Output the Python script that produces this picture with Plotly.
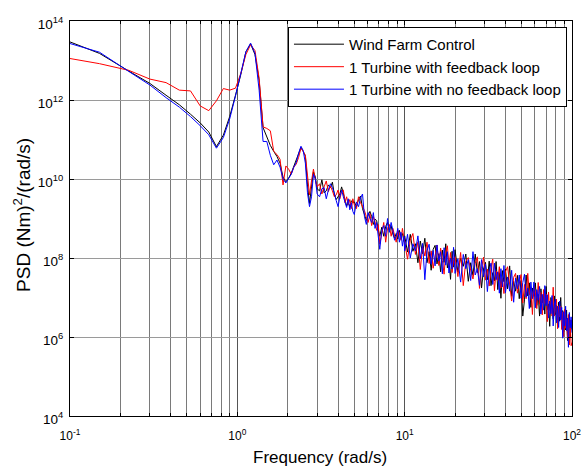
import plotly.graph_objects as go

# ---------------- data (log10 of PSD values) ----------------
freq_low = [0.1, 0.15, 0.225, 0.3, 0.375, 0.45, 0.525, 0.6, 0.675, 0.75, 0.825, 0.9, 0.975,
            1.05, 1.125, 1.2, 1.275, 1.35, 1.425, 1.5, 1.575, 1.65, 1.725, 1.8, 1.875, 1.95]
freq_mid = [2.025, 2.1, 2.175, 2.25, 2.325, 2.4, 2.475, 2.55, 2.625, 2.7, 2.775, 2.85, 2.925, 3.0,
            3.1, 3.2, 3.3, 3.4, 3.5, 3.6, 3.7, 3.8, 3.9, 4.0, 4.1, 4.2, 4.3, 4.4, 4.5, 4.6, 4.7, 4.8, 4.9, 5.0,
            5.15, 5.3, 5.45, 5.6, 5.75, 5.9, 6.05, 6.2, 6.35, 6.5, 6.65, 6.8, 6.95, 7.1,
            7.3, 7.5, 7.7, 7.9, 8.1, 8.3, 8.5, 8.7, 8.9, 9.1, 9.3, 9.5, 9.7, 9.9]
freq_high = [10.0, 10.4, 10.8, 11.2, 11.6, 12.0, 12.4, 12.8, 13.2, 13.6, 14.0, 14.4, 14.8, 15.2, 15.6,
             16.0, 16.4, 16.8, 17.2, 17.6, 18.0, 18.4, 18.8, 19.2, 19.6,
             20.0, 20.8, 21.6, 22.4, 23.2, 24.0, 24.8, 25.6, 26.4, 27.2, 28.0, 28.8, 29.6, 30.4, 31.2,
             32.0, 32.8, 33.6, 34.4, 35.2, 36.0, 36.8, 37.6, 38.4, 39.2,
             40.0, 41.2, 42.4, 43.6, 44.8, 46.0, 47.2, 48.4, 49.6, 50.8, 52.0, 53.2, 54.4, 55.6, 56.8,
             58.0, 59.2, 60.4, 61.6, 62.8, 64.0, 65.2, 66.4, 67.6, 68.8, 70.0, 71.2, 72.4, 73.6, 74.8,
             76.0, 77.2, 78.4, 79.6, 80.8, 82.0, 83.2, 84.4, 85.6, 86.8, 88.0, 89.2, 90.4, 91.6, 92.8,
             94.0, 95.2, 96.4, 97.6, 98.8, 100.0]

black_low = [13.47, 13.18, 12.73, 12.42, 12.12, 11.88, 11.64, 11.42, 11.19, 10.82, 11.11, 11.58, 12.12,
             12.65, 13.22, 13.42, 13.15, 12.50, 11.30, 11.07, 10.85, 10.70, 10.57, 10.40, 10.05, 9.93]
black_mid = [10.02, 10.15, 10.32, 10.45, 10.62, 10.80, 10.70, 10.58, 9.85, 9.38, 9.80, 10.18, 10.05, 9.75,
             9.70, 9.98, 9.65, 9.70, 9.85, 9.78, 9.92, 9.60, 9.48, 9.55, 9.62, 9.80, 9.62, 9.45, 9.32, 9.40,
             9.30, 9.45, 9.40, 9.42,
             9.30, 9.48, 9.57, 9.25, 9.10, 8.95, 9.08, 9.18, 9.05, 8.85, 8.98, 8.95, 8.72, 8.55,
             8.78, 8.55, 8.80, 8.90, 8.70, 8.82, 8.60, 8.50, 8.62, 8.48, 8.70, 8.55, 8.62, 8.42]
black_high = [8.56, 8.15, 8.60, 8.17, 8.36, 7.88, 8.43, 8.11, 8.50, 7.88,
              8.16, 7.69, 8.22, 8.32, 7.85, 8.11, 7.65, 8.20, 7.89, 8.36,
              7.75, 7.95, 7.46, 8.17, 7.77, 8.21, 7.64, 7.99, 7.79, 8.10,
              7.41, 7.88, 7.56, 8.10, 7.63, 7.91, 7.24, 7.72, 7.89, 7.45,
              7.92, 7.30, 7.63, 7.42, 7.91, 7.20, 7.63, 6.98, 7.68, 7.40,
              7.72, 7.22, 7.80, 7.03, 7.41, 7.16, 7.56, 6.97, 7.43, 6.53,
              6.94, 7.57, 7.04, 7.37, 6.75, 7.24, 7.03, 7.37, 6.80, 7.08,
              6.53, 7.22, 6.86, 7.08, 6.58, 7.28, 6.69, 6.84, 6.27, 7.00,
              6.83, 6.46, 7.04, 6.57, 6.81, 6.26, 6.88, 6.40, 7.00, 6.45,
              6.67, 6.13, 6.55, 6.18, 6.68, 5.91, 6.42, 6.55, 6.00, 6.43,
              6.19]

red_low = [13.05, 12.92, 12.75, 12.53, 12.44, 12.25, 12.23, 11.85, 11.73, 11.98, 12.29, 12.25, 12.30,
           12.68, 13.15, 13.40, 13.25, 12.55, 11.32, 11.28, 11.22, 10.70, 10.62, 10.50, 9.85, 10.33]
red_mid = [10.25, 10.12, 10.30, 10.38, 10.55, 10.78, 10.70, 10.60, 10.10, 9.60, 9.95, 10.25, 9.98, 9.80,
           9.88, 9.62, 9.80, 9.95, 9.68, 9.82, 9.70, 9.55, 9.60, 9.72, 9.50, 9.68, 9.72, 9.40, 9.55, 9.35,
           9.48, 9.25, 9.50, 9.35,
           9.25, 9.55, 9.40, 9.30, 9.20, 9.05, 8.90, 9.12, 8.82, 9.05, 8.92, 8.70, 8.85, 8.35,
           8.60, 8.90, 8.40, 8.75, 8.85, 8.55, 8.75, 8.60, 8.40, 8.70, 8.62, 8.45, 8.75, 8.50]
red_high = [8.41, 7.97, 8.45, 8.62, 8.09, 8.41, 7.71, 8.29, 8.05, 8.40,
            7.86, 8.18, 7.74, 8.10, 8.33, 7.81, 8.25, 7.94, 7.59, 8.12,
            8.31, 7.80, 8.14, 7.63, 7.92, 8.03, 7.53, 8.14, 7.30, 7.92,
            8.01, 7.69, 7.47, 7.87, 8.03, 7.23, 7.74, 8.02, 7.44, 7.72,
            7.29, 7.75, 7.97, 7.17, 7.67, 7.43, 7.78, 7.24, 7.48, 7.10,
            7.65, 7.78, 7.26, 6.91, 7.51, 7.61, 7.11, 7.35, 7.58, 6.86,
            7.33, 6.97, 7.61, 7.07, 7.27, 6.57, 7.29, 7.12, 6.72, 7.38,
            6.83, 7.13, 6.56, 7.20, 6.85, 7.09, 6.39, 7.14, 6.67, 6.92,
            6.53, 7.26, 6.53, 6.72, 6.96, 6.21, 6.79, 6.51, 6.78, 6.19,
            6.64, 6.01, 6.70, 6.22, 6.46, 5.99, 6.57, 5.80, 6.42, 5.78,
            5.86]

blue_low = [13.43, 13.21, 12.72, 12.38, 12.06, 11.82, 11.58, 11.35, 11.12, 10.78, 11.05, 11.52, 12.10,
            12.68, 13.22, 13.44, 13.18, 12.25, 10.95, 10.95, 10.60, 10.36, 10.48, 10.30, 10.00, 9.90]
blue_mid = [10.00, 10.12, 10.30, 10.42, 10.65, 10.83, 10.72, 10.40, 9.65, 9.30, 9.55, 10.12, 10.00, 9.62,
            9.55, 9.75, 9.78, 9.50, 9.72, 9.88, 9.78, 9.65, 9.45, 9.30, 9.55, 9.72, 9.55, 9.38, 9.28, 9.50,
            9.22, 9.40, 9.18, 9.10,
            9.42, 9.30, 9.52, 9.62, 9.05, 8.85, 9.15, 9.00, 8.90, 9.15, 8.75, 8.90, 8.60, 8.22,
            8.70, 8.82, 8.55, 9.00, 8.65, 8.90, 8.70, 8.45, 8.55, 8.75, 8.40, 8.65, 8.30, 8.55]
blue_high = [8.18, 8.60, 8.00, 8.36, 8.18, 8.56, 7.98, 8.37, 7.45, 8.18,
             8.35, 7.84, 8.19, 7.80, 8.33, 7.92, 8.16, 7.60, 8.26, 7.82,
             8.16, 7.62, 7.99, 7.72, 8.27, 7.61, 7.98, 7.39, 8.09, 7.73,
             7.96, 7.43, 8.16, 7.57, 7.73, 7.31, 7.96, 7.52, 7.85, 7.15,
             7.67, 7.87, 7.33, 7.87, 7.45, 7.65, 7.11, 7.73, 7.27, 7.81,
             7.12, 7.52, 7.16, 7.69, 6.88, 7.49, 7.22, 7.57, 6.98, 7.38,
             7.59, 7.01, 7.24, 6.72, 7.39, 6.97, 7.39, 6.74, 7.20, 6.93,
             7.28, 6.58, 7.08, 6.68, 7.30, 6.79, 7.07, 6.48, 6.91, 6.59,
             7.05, 6.28, 6.79, 6.96, 6.36, 6.78, 6.24, 6.91, 6.43, 6.75,
             5.97, 6.64, 6.28, 6.78, 6.16, 6.48, 5.74, 6.62, 6.23, 6.51,
             6.11]

series_names = ["Wind Farm Control", "1 Turbine with feedback loop", "1 Turbine with no feedback loop"]
series_colors = ["#000000", "#ff0000", "#0000ff"]

x_tick_vals = [0.1, 1, 10, 100]
x_tick_text = ["10<sup>-1</sup>", "10<sup>0</sup>", "10<sup>1</sup>", "10<sup>2</sup>"]
x_minor_vals = [0.2, 0.3, 0.4, 0.5, 0.6, 0.7, 0.8, 0.9,
                2, 3, 4, 5, 6, 7, 8, 9,
                20, 30, 40, 50, 60, 70, 80, 90]
y_tick_vals = [1e4, 1e6, 1e8, 1e10, 1e12, 1e14]
y_tick_text = ["10<sup>4</sup>", "10<sup>6</sup>", "10<sup>8</sup>",
               "10<sup>10</sup>", "10<sup>12</sup>", "10<sup>14</sup>"]

# ---------------- figure ----------------
freq = freq_low + freq_mid + freq_high
series_logs = [black_low + black_mid + black_high,
               red_low + red_mid + red_high,
               blue_low + blue_mid + blue_high]

FONT = "Liberation Sans, Arial, sans-serif"
fig = go.Figure()
for name, logs, color in zip(series_names, series_logs, series_colors):
    fig.add_trace(go.Scatter(
        x=freq, y=[10 ** v for v in logs], mode="lines", name=name,
        line=dict(color=color, width=1)))

axis_common = dict(
    showline=True, linecolor="black", linewidth=1, mirror="ticks",
    ticks="inside", ticklen=4, tickcolor="black", tickwidth=1,
    zeroline=False, automargin=False, ticklabeloverflow="allow",
)

fig.update_xaxes(
    type="log", range=[-1, 2],
    tickvals=x_tick_vals, ticktext=x_tick_text,
    tickfont=dict(family=FONT, size=12, color="black"), ticklabelstandoff=9,
    showgrid=True, gridcolor="#555555", gridwidth=1,
    minor=dict(tickvals=x_minor_vals, ticks="inside", ticklen=3, tickcolor="black",
               showgrid=True, gridcolor="#7a7a7a", gridwidth=1),
    **axis_common)

fig.update_yaxes(
    type="log", range=[4, 14],
    tickvals=y_tick_vals, ticktext=y_tick_text,
    tickfont=dict(family=FONT, size=13.5, color="black"), ticklabelshift=3, ticklabelstandoff=3,
    showgrid=True, gridcolor="#9a9a9a", gridwidth=1,
    **axis_common)

fig.update_layout(
    width=583, height=470,
    margin=dict(l=70, r=11, t=21, b=54),
    paper_bgcolor="white", plot_bgcolor="white",
    font=dict(family=FONT, size=13, color="black"),
    showlegend=True,
    legend=dict(x=0.99, y=0.985, xanchor="right", yanchor="top",
                bgcolor="white", bordercolor="black", borderwidth=1,
                font=dict(family=FONT, size=15, color="black"),
                tracegroupgap=0, itemwidth=50),
    annotations=[
        dict(text="Frequency (rad/s)", xref="paper", yref="paper", x=0.498, y=-0.106,
             xanchor="center", yanchor="middle", showarrow=False,
             font=dict(family=FONT, size=17, color="black")),
        dict(text="PSD (Nm)<sup>2</sup>/(rad/s)", xref="paper", yref="paper", x=-0.0956, y=0.509,
             xanchor="center", yanchor="middle", textangle=-90, showarrow=False,
             font=dict(family=FONT, size=19, color="black")),
    ],
)

fig.write_html("out.html", config={"displayModeBar": False},
               post_script="document.body.style.margin='0';")
